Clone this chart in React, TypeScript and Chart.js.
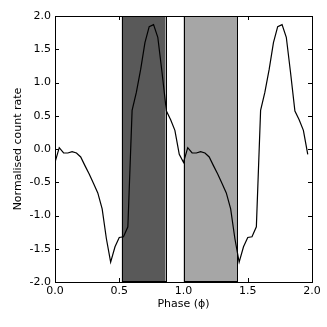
import { useEffect, useRef } from "react";
import { Chart, registerables } from "chart.js";
Chart.register(...registerables);

const phases = [
  0.0, 0.033, 0.067, 0.1, 0.133, 0.167, 0.2, 0.233, 0.267, 0.3,
  0.333, 0.367, 0.4, 0.433, 0.467, 0.5, 0.533, 0.567, 0.6, 0.633,
  0.667, 0.7, 0.733, 0.767, 0.8, 0.833, 0.867, 0.9, 0.933, 0.967,
  1.0, 1.033, 1.067, 1.1, 1.133, 1.167, 1.2, 1.233, 1.267, 1.3,
  1.333, 1.367, 1.4, 1.433, 1.467, 1.5, 1.533, 1.567, 1.6, 1.633,
  1.667, 1.7, 1.733, 1.767, 1.8, 1.833, 1.867, 1.9, 1.933, 1.967,
];
const rates = [
  -0.2, 0.02, -0.06, -0.06, -0.04, -0.06, -0.12, -0.25, -0.38, -0.52,
  -0.66, -0.9, -1.35, -1.7, -1.47, -1.33, -1.32, -1.17, 0.58, 0.85,
  1.2, 1.6, 1.84, 1.87, 1.68, 1.15, 0.57, 0.44, 0.28, -0.08,
  -0.2, 0.02, -0.06, -0.06, -0.04, -0.06, -0.12, -0.25, -0.38, -0.52,
  -0.66, -0.9, -1.35, -1.7, -1.47, -1.33, -1.32, -1.17, 0.58, 0.85,
  1.2, 1.6, 1.84, 1.87, 1.68, 1.15, 0.57, 0.44, 0.28, -0.08,
];
const xTickValues = [0, 0.5, 1.0, 1.5, 2.0];
const yTickValues = [-2.0, -1.5, -1.0, -0.5, 0.0, 0.5, 1.0, 1.5, 2.0];
const shadeStarts = [0.52, 1.0];
const shadeEnds = [0.86, 1.42];
const shadeColors = ["#595959", "#a6a6a6"];

const FONT = "'DejaVu Sans', sans-serif";

const framePlugin = {
  id: "frame",
  beforeDatasetsDraw(chart: any) {
    const { ctx, chartArea, scales } = chart;
    const xs = scales.x;
    ctx.save();
    for (let i = 0; i < shadeStarts.length; i++) {
      const x0 = xs.getPixelForValue(shadeStarts[i]);
      const x1 = xs.getPixelForValue(shadeEnds[i]);
      ctx.fillStyle = shadeColors[i];
      ctx.fillRect(x0, chartArea.top, x1 - x0, chartArea.bottom - chartArea.top);
      ctx.strokeStyle = "#000";
      ctx.lineWidth = 1;
      ctx.strokeRect(Math.round(x0) + 0.5, chartArea.top + 0.5, Math.round(x1) - Math.round(x0), chartArea.bottom - chartArea.top - 1);
    }
    ctx.restore();
  },
  afterDraw(chart: any) {
    const { ctx, chartArea, scales } = chart;
    const { left, right, top, bottom } = chartArea;
    ctx.save();
    ctx.strokeStyle = "#000";
    ctx.lineWidth = 1;
    ctx.beginPath();
    const L = 4;
    for (const v of xTickValues) {
      const px = Math.round(scales.x.getPixelForValue(v)) + 0.5;
      ctx.moveTo(px, bottom);
      ctx.lineTo(px, bottom - L);
      ctx.moveTo(px, top);
      ctx.lineTo(px, top + L);
    }
    for (const v of yTickValues) {
      const py = Math.round(scales.y.getPixelForValue(v)) + 0.5;
      ctx.moveTo(left, py);
      ctx.lineTo(left + L, py);
      ctx.moveTo(right, py);
      ctx.lineTo(right - L, py);
    }
    ctx.stroke();
    ctx.strokeRect(Math.round(left) + 0.5, Math.round(top) + 0.5, Math.round(right - left), Math.round(bottom - top));
    ctx.restore();
  },
};

export default function App() {
  const ref = useRef<HTMLCanvasElement>(null);
  useEffect(() => {
    document.body.style.margin = "0";
    const points = phases.map((p, i) => ({ x: p, y: rates[i] }));
    const chart = new Chart(ref.current as HTMLCanvasElement, {
      type: "line",
      data: {
        datasets: [
          {
            data: points,
            borderColor: "#000",
            borderWidth: 1.2,
            pointRadius: 0,
            tension: 0,
            fill: false,
          },
        ],
      },
      options: {
        animation: false,
        responsive: false,
        maintainAspectRatio: false,
        layout: { padding: { top: 16, right: 15, left: 0, bottom: 0 } },
        plugins: { legend: { display: false }, tooltip: { enabled: false } },
        scales: {
          x: {
            type: "linear",
            min: 0,
            max: 2,
            grid: { display: false, drawTicks: false },
            border: { display: false },
            afterBuildTicks: (s: any) => {
              s.ticks = xTickValues.map((v) => ({ value: v }));
            },
            afterFit: (s: any) => {
              s.height = 45;
            },
            ticks: {
              color: "#000",
              font: { family: FONT, size: 11 },
              padding: 3,
              maxRotation: 0,
              callback: (v: any) => Number(v).toFixed(1),
            },
            title: {
              display: true,
              text: "Phase (\u03d5)",
              color: "#000",
              font: { family: FONT, size: 11 },
              padding: { top: 0, bottom: 16 },
            },
          },
          y: {
            type: "linear",
            min: -2,
            max: 2,
            grid: { display: false, drawTicks: false },
            border: { display: false },
            afterBuildTicks: (s: any) => {
              s.ticks = yTickValues.map((v) => ({ value: v }));
            },
            afterFit: (s: any) => {
              s.width = 55;
            },
            ticks: {
              color: "#000",
              font: { family: FONT, size: 11 },
              padding: 4,
              callback: (v: any) => Number(v).toFixed(1),
            },
            title: {
              display: true,
              text: "Normalised count rate",
              color: "#000",
              font: { family: FONT, size: 11 },
              padding: { top: 12, bottom: 0 },
            },
          },
        },
      },
      plugins: [framePlugin],
    });
    return () => chart.destroy();
  }, []);
  return (
    <div style={{ width: 327, height: 327 }}>
      <canvas ref={ref} width={327} height={327} style={{ display: "block" }} />
    </div>
  );
}
